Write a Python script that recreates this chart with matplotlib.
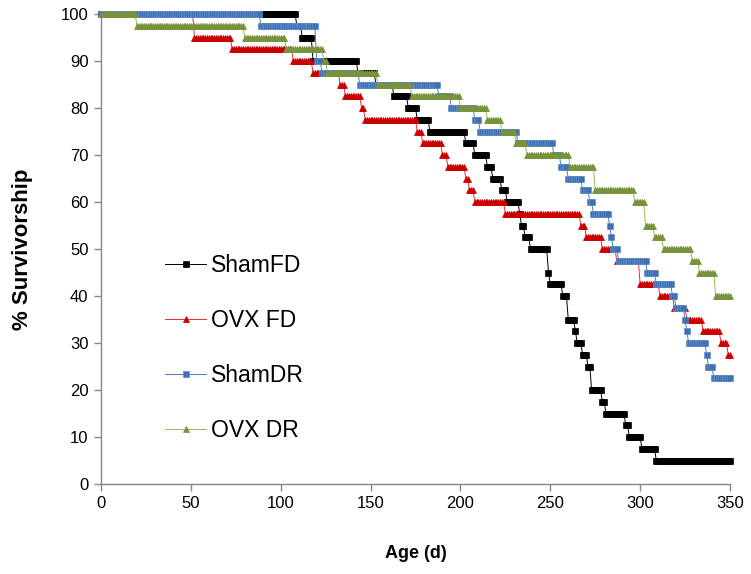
import numpy as np
import matplotlib
matplotlib.use("Agg")
import matplotlib.pyplot as plt

plt.rcParams['font.family'] = ['Liberation Sans', 'DejaVu Sans']

# survival curves: first day of each level, and the level (% alive)
sham_fd_days = [0, 109, 112, 118, 143, 153, 163, 171, 176, 183, 203, 208, 215, 218, 223, 226,
                233, 234, 236, 239, 249, 250, 257, 260, 264, 265, 268, 271, 273, 279, 281, 292,
                294, 301, 309]
sham_fd_surv = [100, 97.5, 95, 90, 87.5, 85, 82.5, 80, 77.5, 75, 72.5, 70, 67.5, 65, 62.5, 60,
                57.5, 55, 52.5, 50, 45, 42.5, 40, 35, 32.5, 30, 27.5, 25, 20, 17.5, 15, 12.5,
                10, 7.5, 5]

ovx_fd_days = [0, 52, 73, 107, 118, 133, 136, 145, 147, 176, 179, 190, 193, 203, 205, 208,
               225, 267, 270, 279, 287, 300, 311, 319, 326, 335, 345, 349]
ovx_fd_surv = [100, 95, 92.5, 90, 87.5, 85, 82.5, 80, 77.5, 75, 72.5, 70, 67.5, 65, 62.5, 60,
               57.5, 55, 52.5, 50, 47.5, 42.5, 40, 37.5, 35, 32.5, 30, 27.5]

sham_dr_days = [0, 89, 120, 123, 144, 188, 195, 208, 211, 232, 252, 256, 260, 268, 272, 274,
                283, 284, 285, 288, 304, 309, 318, 320, 325, 326, 327, 337, 338, 341]
sham_dr_surv = [100, 97.5, 90, 87.5, 85, 82.5, 80, 77.5, 75, 72.5, 70, 67.5, 65, 62.5, 60, 57.5,
                55, 52.5, 50, 47.5, 45, 42.5, 40, 37.5, 35, 32.5, 30, 27.5, 25, 22.5]

ovx_dr_days = [0, 20, 80, 103, 124, 126, 154, 173, 200, 215, 223, 231, 237, 261, 275, 297,
               303, 308, 313, 329, 333, 342]
ovx_dr_surv = [100, 97.5, 95, 92.5, 90, 87.5, 85, 82.5, 80, 77.5, 75, 72.5, 70, 67.5, 62.5, 60,
               55, 52.5, 50, 47.5, 45, 40]

age = np.arange(0, 351)  # daily observations


def daily(change_days, levels):
    idx = np.searchsorted(change_days, age, side='right') - 1
    return np.array(levels)[idx]


fig = plt.figure(figsize=(7.51, 5.74), dpi=100)
ax = fig.add_axes([101 / 751, 1 - 484 / 574, 629 / 751, 470 / 574])

series = [
    ("ShamFD", sham_fd_days, sham_fd_surv, dict(color='black', marker='s', ms=4.1,
                                                 mfc='black', mec='black', mew=0.5)),
    ("OVX FD", ovx_fd_days, ovx_fd_surv, dict(color='#e03030', marker='^', ms=4.6,
                                               mfc='#cc0000', mec='#cc0000', mew=0.5)),
    ("ShamDR", sham_dr_days, sham_dr_surv, dict(color='#4a7ebb', marker='s', ms=4.1,
                                                 mfc='#3f70b2', mec='#5f8cc8', mew=0.5)),
    ("OVX DR", ovx_dr_days, ovx_dr_surv, dict(color='#98b954', marker='^', ms=4.6,
                                               mfc='#77933c', mec='#77933c', mew=0.5)),
]

for i, (name, d, s, style) in enumerate(series):
    ax.plot(age, daily(d, s), lw=0.7, label=name, clip_on=False, zorder=3 + i, **style)

ax.set_xlim(0, 350)
ax.set_ylim(0, 100)
ax.set_xticks(range(0, 351, 50))
ax.set_yticks(range(0, 101, 10))
ax.tick_params(axis='both', direction='out', length=5, width=1, color='#868686',
               labelsize=12, pad=4)
for side in ['top', 'right']:
    ax.spines[side].set_visible(False)
for side in ['left', 'bottom']:
    ax.spines[side].set_color('#868686')
    ax.spines[side].set_linewidth(1)

ax.set_xlabel("Age (d)", fontsize=13, fontweight='bold', labelpad=24)
ax.set_ylabel("% Survivorship", fontsize=16, fontweight='bold', labelpad=20)

leg = ax.legend(loc='center left', bbox_to_anchor=(0.087, 0.29), frameon=False,
                fontsize=16.5, numpoints=1, handlelength=1.8, handletextpad=0.2,
                labelspacing=1.4, borderaxespad=0)

fig.savefig("out.png", dpi=100)
